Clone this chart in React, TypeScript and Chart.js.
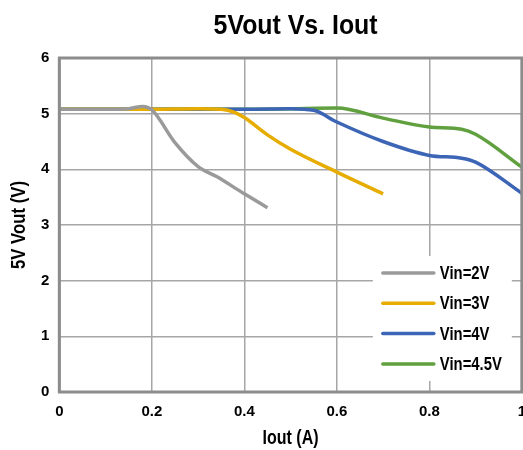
import React, { useEffect, useRef } from "react";
import { Chart, registerables } from "chart.js";

Chart.register(...registerables);

const seriesNames = ["Vin=2V", "Vin=3V", "Vin=4V", "Vin=4.5V"];
const seriesColors = ["#9a9a9a", "#e7ac00", "#3d65b5", "#61a03f"];

const iout2V = [0, 0.05, 0.1, 0.15, 0.18, 0.2, 0.25, 0.3, 0.34, 0.4, 0.45];
const vout2V = [5.08, 5.08, 5.08, 5.09, 5.13, 5.07, 4.48, 4.05, 3.87, 3.56, 3.31];

const iout3V = [0, 0.1, 0.2, 0.3, 0.35, 0.38, 0.4, 0.45, 0.5, 0.6, 0.7];
const vout3V = [5.08, 5.08, 5.08, 5.09, 5.08, 5.02, 4.93, 4.62, 4.36, 3.95, 3.56];

const iout4V = [0, 0.1, 0.2, 0.3, 0.4, 0.5, 0.55, 0.6, 0.7, 0.8, 0.87, 0.9, 1.0];
const vout4V = [5.08, 5.08, 5.08, 5.08, 5.08, 5.09, 5.06, 4.85, 4.5, 4.25, 4.2, 4.13, 3.57];

const iout45V = [0, 0.1, 0.2, 0.3, 0.4, 0.5, 0.6, 0.7, 0.8, 0.87, 0.9, 1.0];
const vout45V = [5.08, 5.08, 5.08, 5.08, 5.08, 5.09, 5.1, 4.92, 4.76, 4.72, 4.63, 4.04];

const xValues = [iout2V, iout3V, iout4V, iout45V];
const yValues = [vout2V, vout3V, vout4V, vout45V];

const titleText = "5Vout Vs. Iout";
const xTitle = "Iout (A)";
const yTitle = "5V Vout (V)";

const SANS = "'Liberation Sans', Arial, sans-serif";

// draw condensed bold text (horizontally compressed to a target width)
function narrowText(ctx: any, text: string, x: number, y: number, size: number, targetW: number, rot = 0) {
  ctx.save();
  ctx.font = `bold ${size}px ${SANS}`;
  const w = ctx.measureText(text).width;
  const s = targetW / w;
  ctx.translate(x, y);
  ctx.rotate(rot);
  ctx.scale(s, 1);
  ctx.textAlign = "center";
  ctx.textBaseline = "middle";
  ctx.fillStyle = "#000";
  ctx.fillText(text, 0, 0);
  ctx.restore();
}

const framePlugin = {
  id: "frame",
  afterDatasetsDraw(chart: any) {
    const { ctx, chartArea: a } = chart;
    ctx.save();
    ctx.strokeStyle = "#8c8c8c";
    ctx.lineWidth = 3;
    ctx.strokeRect(a.left, a.top, a.right - a.left, a.bottom - a.top);
    ctx.restore();
  },
};

const textPlugin = {
  id: "titles",
  afterDraw(chart: any) {
    const { ctx, chartArea: a } = chart;
    const cx = (a.left + a.right) / 2;
    const cy = (a.top + a.bottom) / 2;
    narrowText(ctx, titleText, cx + 5, 26, 28, 164);
    narrowText(ctx, xTitle, cx, a.bottom + 46, 20, 56);
    narrowText(ctx, yTitle, 19, cy, 20, 88, -Math.PI / 2);
  },
};

const legendPlugin = {
  id: "insideLegend",
  afterDraw(chart: any) {
    const { ctx, chartArea: a } = chart;
    const left = a.right - 149;
    const top = a.bottom - 136;
    ctx.save();
    ctx.fillStyle = "#ffffff";
    ctx.fillRect(left, top, 139, 125);
    ctx.font = `bold 18px ${SANS}`;
    const s = 62 / ctx.measureText("Vin=4.5V").width;
    ctx.lineCap = "round";
    chart.data.datasets.forEach((ds: any, i: number) => {
      const y = top + 17 + i * 30.3;
      ctx.strokeStyle = ds.borderColor;
      ctx.lineWidth = 3.5;
      ctx.beginPath();
      ctx.moveTo(left + 10, y);
      ctx.lineTo(left + 61, y);
      ctx.stroke();
      ctx.save();
      ctx.translate(left + 67, y + 1);
      ctx.scale(s, 1);
      ctx.textBaseline = "middle";
      ctx.textAlign = "left";
      ctx.fillStyle = "#000";
      ctx.fillText(ds.label, 0, 0);
      ctx.restore();
    });
    ctx.restore();
  },
};

export default function App() {
  const ref = useRef<HTMLCanvasElement>(null);
  useEffect(() => {
    document.body.style.margin = "0";
    const chart = new Chart(ref.current!, {
      type: "line",
      data: {
        datasets: seriesNames.map((name, i) => ({
          label: name,
          data: xValues[i].map((x, j) => ({ x, y: yValues[i][j] })),
          borderColor: seriesColors[i],
          backgroundColor: seriesColors[i],
          borderWidth: 3.5,
          pointRadius: 0,
          cubicInterpolationMode: "monotone" as const,
          fill: false,
        })),
      },
      options: {
        animation: false,
        responsive: false,
        maintainAspectRatio: false,
        layout: { padding: { left: 31, right: 0, top: 58, bottom: 19 } },
        plugins: {
          legend: { display: false },
          tooltip: { enabled: false },
          title: { display: false },
        },
        scales: {
          x: {
            type: "linear",
            min: 0,
            max: 1,
            ticks: {
              stepSize: 0.2,
              color: "#000",
              font: { family: SANS, size: 15, weight: "bold", lineHeight: 1 },
              padding: 12,
              callback: (v: any) => String(Math.round(Number(v) * 10) / 10),
            },
            grid: { color: "#a6a6a6", lineWidth: 1.5, drawTicks: false },
            border: { display: false },
          },
          y: {
            min: 0,
            max: 6,
            ticks: {
              stepSize: 1,
              color: "#000",
              font: { family: SANS, size: 15, weight: "bold" },
              padding: 10,
            },
            grid: { color: "#a6a6a6", lineWidth: 1.5, drawTicks: false },
            border: { display: false },
          },
        },
      },
      plugins: [framePlugin, textPlugin, legendPlugin],
    });
    return () => chart.destroy();
  }, []);
  return (
    <div style={{ position: "relative", width: 523, height: 450, overflow: "hidden" }}>
      <canvas ref={ref} width={538} height={450} style={{ display: "block" }} />
    </div>
  );
}
